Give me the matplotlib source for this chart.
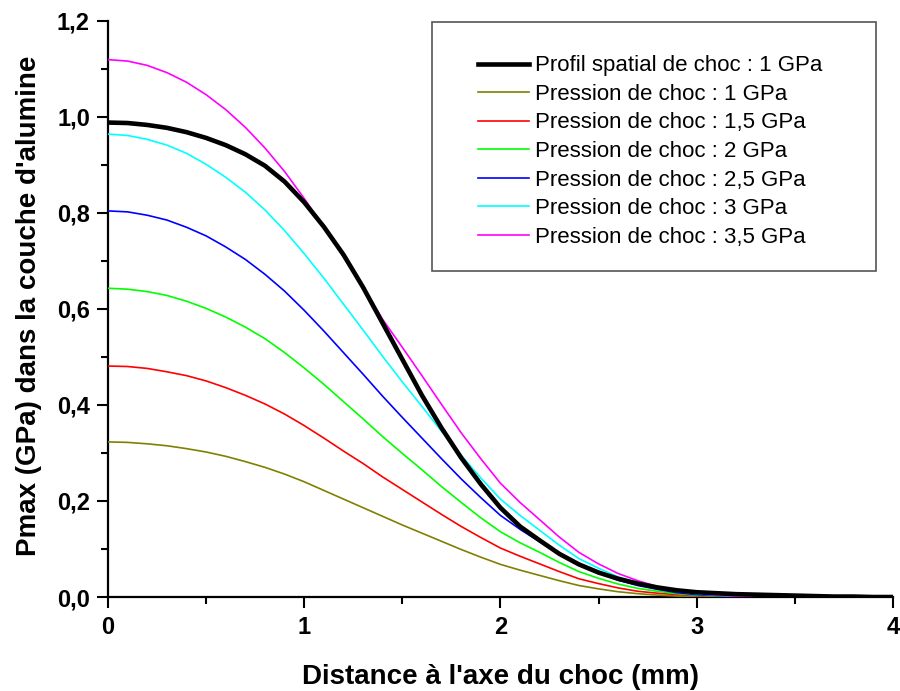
import numpy as np
import matplotlib
matplotlib.use("Agg")
import matplotlib.pyplot as plt
from matplotlib.ticker import MultipleLocator, FuncFormatter
from matplotlib.patches import Rectangle

plt.rcParams['font.family'] = ['Liberation Sans', 'DejaVu Sans']

# distance a l'axe du choc (mm), pas de 0,1 mm
distance = [round(0.1 * i, 1) for i in range(41)]

# Pmax (GPa)
profil_1 = [0.988, 0.987, 0.983, 0.977, 0.968, 0.956, 0.941, 0.922, 0.898, 0.865,
            0.822, 0.771, 0.713, 0.645, 0.570, 0.495, 0.420, 0.352, 0.290, 0.235,
            0.186, 0.147, 0.118, 0.090, 0.068, 0.051, 0.038, 0.028, 0.020, 0.014,
            0.010, 0.008, 0.006, 0.005, 0.004, 0.003, 0.002, 0.001, 0.001, 0.0, 0.0]
p_1 = [0.323, 0.322, 0.319, 0.315, 0.309, 0.302, 0.293, 0.282, 0.270, 0.256,
       0.240, 0.222, 0.204, 0.186, 0.168, 0.150, 0.133, 0.116, 0.099, 0.083,
       0.068, 0.056, 0.045, 0.034, 0.024, 0.017, 0.011, 0.007, 0.004, 0.002,
       0.001, 0.0, 0.0, 0.0, 0.0, 0.0, 0.0, 0.0, 0.0, 0.0, 0.0]
p_15 = [0.481, 0.480, 0.476, 0.469, 0.461, 0.450, 0.436, 0.420, 0.402, 0.381,
        0.357, 0.331, 0.304, 0.278, 0.250, 0.224, 0.198, 0.172, 0.147, 0.124,
        0.102, 0.085, 0.069, 0.053, 0.038, 0.028, 0.019, 0.012, 0.008, 0.005,
        0.003, 0.001, 0.0, 0.0, 0.0, 0.0, 0.0, 0.0, 0.0, 0.0, 0.0]
p_2 = [0.643, 0.641, 0.636, 0.628, 0.616, 0.601, 0.583, 0.562, 0.538, 0.509,
       0.477, 0.443, 0.407, 0.371, 0.334, 0.299, 0.265, 0.230, 0.197, 0.165,
       0.136, 0.113, 0.093, 0.072, 0.053, 0.039, 0.027, 0.018, 0.012, 0.007,
       0.004, 0.002, 0.001, 0.0, 0.0, 0.0, 0.0, 0.0, 0.0, 0.0, 0.0]
p_25 = [0.804, 0.802, 0.795, 0.785, 0.770, 0.752, 0.729, 0.703, 0.672, 0.637,
        0.597, 0.554, 0.509, 0.464, 0.418, 0.374, 0.331, 0.288, 0.246, 0.207,
        0.170, 0.141, 0.115, 0.090, 0.067, 0.050, 0.035, 0.024, 0.016, 0.009,
        0.005, 0.003, 0.002, 0.001, 0.0, 0.0, 0.0, 0.0, 0.0, 0.0, 0.0]
p_3 = [0.964, 0.961, 0.953, 0.941, 0.924, 0.901, 0.874, 0.843, 0.806, 0.763,
       0.715, 0.664, 0.610, 0.556, 0.501, 0.448, 0.397, 0.345, 0.295, 0.248,
       0.204, 0.170, 0.139, 0.108, 0.080, 0.060, 0.042, 0.029, 0.019, 0.012,
       0.007, 0.004, 0.002, 0.001, 0.0, 0.0, 0.0, 0.0, 0.0, 0.0, 0.0]
p_35 = [1.119, 1.116, 1.107, 1.092, 1.072, 1.046, 1.015, 0.978, 0.935, 0.886,
        0.830, 0.771, 0.708, 0.646, 0.578, 0.520, 0.461, 0.401, 0.342, 0.288,
        0.237, 0.197, 0.161, 0.125, 0.093, 0.069, 0.049, 0.034, 0.022, 0.013,
        0.008, 0.004, 0.002, 0.001, 0.0, 0.0, 0.0, 0.0, 0.0, 0.0, 0.0]

labels = ["Profil spatial de choc : 1 GPa",
          "Pression de choc : 1 GPa",
          "Pression de choc : 1,5 GPa",
          "Pression de choc : 2 GPa",
          "Pression de choc : 2,5 GPa",
          "Pression de choc : 3 GPa",
          "Pression de choc : 3,5 GPa"]
colors = ["black", "#808000", "#ff0000", "#00ff00", "#0000ff", "#00ffff", "#ff00ff"]

fig = plt.figure(figsize=(9, 6.91), dpi=100)
ax = fig.add_axes([0.12, 0.136, 0.872, 0.834])

series = [profil_1, p_1, p_15, p_2, p_25, p_3, p_35]
for i, (s, c, lab) in enumerate(zip(series, colors, labels)):
    if i == 0:
        ax.plot(distance, s, color=c, lw=3.3, label=lab, zorder=5)
    else:
        ax.plot(distance, s, color=c, lw=1.2, label=lab, zorder=3)

ax.set_xlim(0, 4)
ax.set_ylim(0, 1.2)
ax.xaxis.set_major_locator(MultipleLocator(1))
ax.xaxis.set_minor_locator(MultipleLocator(0.5))
ax.yaxis.set_major_locator(MultipleLocator(0.2))
ax.yaxis.set_minor_locator(MultipleLocator(0.1))
ax.xaxis.set_major_formatter(FuncFormatter(lambda v, p: "%d" % round(v)))
ax.yaxis.set_major_formatter(FuncFormatter(lambda v, p: ("%.1f" % v).replace(".", ",")))

for side in ["top", "right"]:
    ax.spines[side].set_visible(False)
for side in ["left", "bottom"]:
    ax.spines[side].set_linewidth(1.6)

ax.tick_params(which="major", direction="out", length=8, width=1.5, labelsize=17, pad=5)
ax.tick_params(which="minor", direction="out", length=5, width=1.5)
ax.tick_params(axis="x", which="major", pad=6)
for t in ax.get_xticklabels() + ax.get_yticklabels():
    t.set_fontweight("bold")

ax.set_xlabel("Distance à l'axe du choc (mm)", fontsize=20, fontweight="bold", labelpad=18)
ax.set_ylabel("Pmax (GPa) dans la couche d'alumine", fontsize=20, fontweight="bold", labelpad=8)
ax.yaxis.set_label_coords(-0.084, 0.505)

# legend frame
ax.add_patch(Rectangle((0.413, 0.566), 0.565, 0.432, transform=ax.transAxes,
                       fill=False, edgecolor="#555555", lw=1.2, clip_on=False, zorder=6))
leg = ax.legend(loc="upper left", bbox_to_anchor=(0.471, 0.940), frameon=False,
                fontsize=16, borderpad=0, handlelength=2.3, handletextpad=0.3,
                labelspacing=0.34, borderaxespad=0)
leg.set_zorder(7)

fig.savefig("out.png", dpi=100)
